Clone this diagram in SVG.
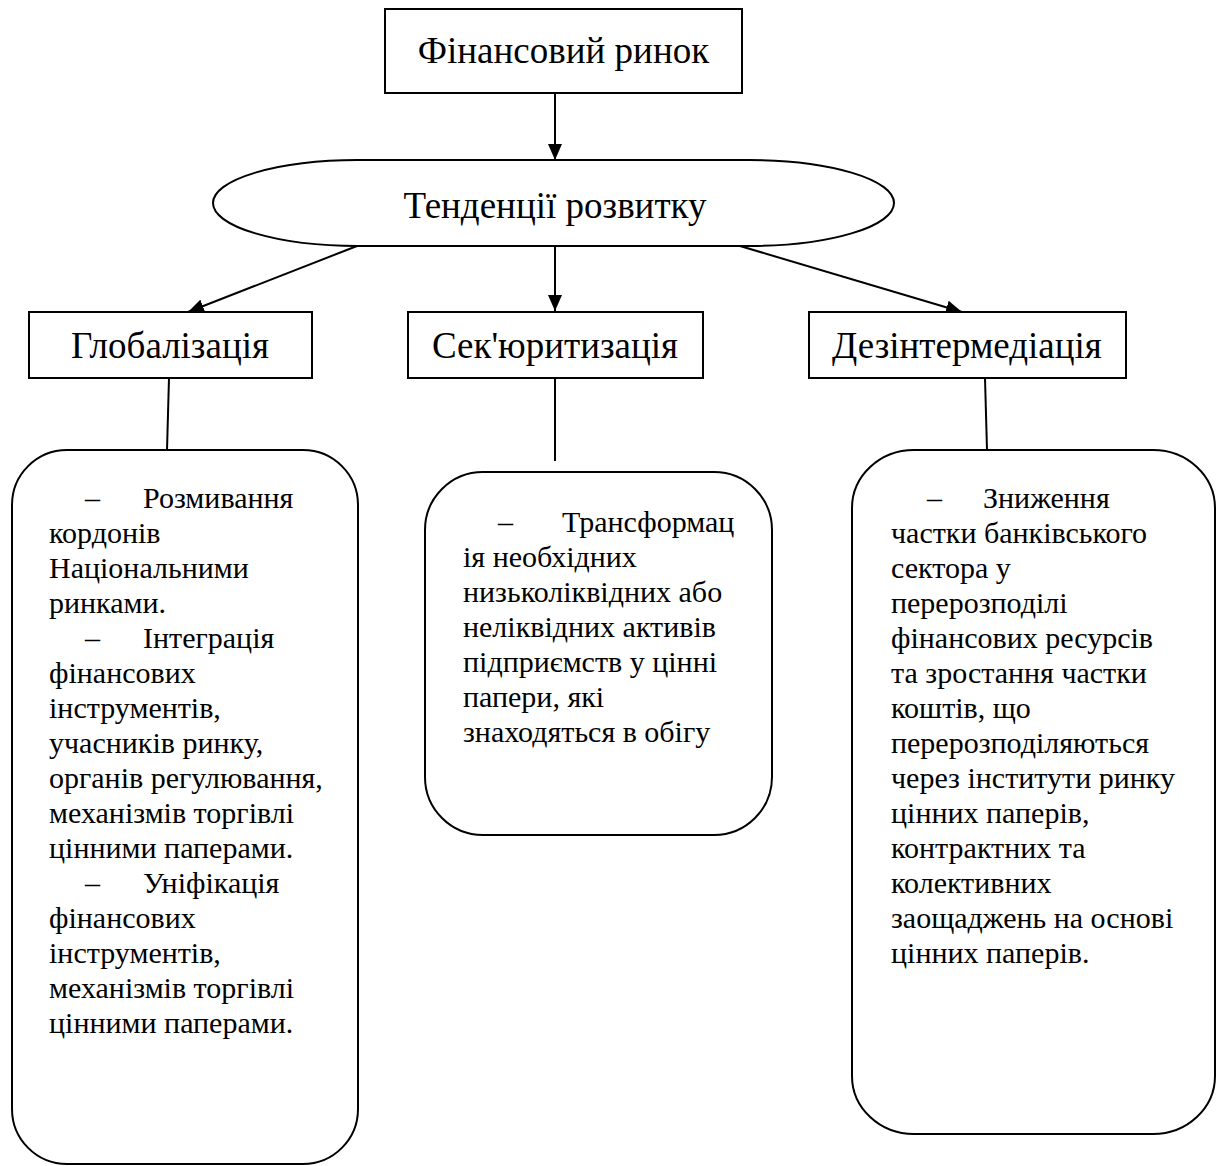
<svg xmlns="http://www.w3.org/2000/svg" width="1219" height="1166" viewBox="0 0 1219 1166">
<style>
.shape{fill:#fff;stroke:#000;stroke-width:2}
.lbl{font-family:"Liberation Serif","Times New Roman",serif;font-size:37px;fill:#000;text-anchor:middle}
.body{font-family:"Liberation Serif","Times New Roman",serif;font-size:30px;fill:#000}
.conn{stroke:#000;stroke-width:2;fill:none}
</style>
<defs>
<marker id="arr" markerUnits="userSpaceOnUse" markerWidth="16" markerHeight="14" refX="16" refY="7" orient="auto">
<path d="M0,0 L16,7 L0,14 Z" fill="#000"/>
</marker>
</defs>
<rect width="1219" height="1166" fill="#fff"/>
<g id="connectors">
<line class="conn" x1="555" y1="93" x2="555" y2="160" marker-end="url(#arr)"/>
<line class="conn" x1="357" y1="246" x2="188" y2="312" marker-end="url(#arr)"/>
<line class="conn" x1="555" y1="246" x2="555" y2="311" marker-end="url(#arr)"/>
<line class="conn" x1="740" y1="246" x2="962" y2="312" marker-end="url(#arr)"/>
<line class="conn" x1="169" y1="378" x2="167" y2="450"/>
<line class="conn" x1="555" y1="378" x2="555" y2="461"/>
<line class="conn" x1="985" y1="378" x2="987" y2="450"/>
</g>
<g id="n-market">
<rect class="shape" x="385" y="9" width="357" height="84"/>
<text class="lbl" x="563.5" y="63">Фінансовий ринок</text>
</g>
<g id="n-trends">
<rect class="shape" x="213" y="160" width="681" height="86" rx="145" ry="43"/>
<text class="lbl" x="555" y="218">Тенденції розвитку</text>
</g>
<g id="n-glob">
<rect class="shape" x="29" y="312" width="283" height="66"/>
<text class="lbl" x="170" y="358">Глобалізація</text>
</g>
<g id="n-sec">
<rect class="shape" x="408" y="312" width="295" height="66"/>
<text class="lbl" x="555" y="358">Сек'юритизація</text>
</g>
<g id="n-dis">
<rect class="shape" x="809" y="312" width="317" height="66"/>
<text class="lbl" x="967" y="358">Дезінтермедіація</text>
</g>
<g id="n-glob-desc">
<rect class="shape" x="12" y="450" width="346" height="714" rx="55" ry="55"/>
<text class="body">
<tspan x="85" y="508">–</tspan><tspan x="143" y="508">Розмивання</tspan>
<tspan x="49" y="543">кордонів</tspan>
<tspan x="49" y="578">Національними</tspan>
<tspan x="49" y="613">ринками.</tspan>
<tspan x="85" y="648">–</tspan><tspan x="143" y="648">Інтеграція</tspan>
<tspan x="49" y="683">фінансових</tspan>
<tspan x="49" y="718">інструментів,</tspan>
<tspan x="49" y="753">учасників ринку,</tspan>
<tspan x="49" y="788">органів регулювання,</tspan>
<tspan x="49" y="823">механізмів торгівлі</tspan>
<tspan x="49" y="858">цінними паперами.</tspan>
<tspan x="85" y="893">–</tspan><tspan x="143" y="893">Уніфікація</tspan>
<tspan x="49" y="928">фінансових</tspan>
<tspan x="49" y="963">інструментів,</tspan>
<tspan x="49" y="998">механізмів торгівлі</tspan>
<tspan x="49" y="1033">цінними паперами.</tspan>
</text>
</g>
<g id="n-sec-desc">
<rect class="shape" x="425" y="472" width="347" height="363" rx="58" ry="58"/>
<text class="body">
<tspan x="498" y="532">–</tspan><tspan x="562" y="532">Трансформац</tspan>
<tspan x="463" y="567">ія необхідних</tspan>
<tspan x="463" y="602">низьколіквідних або</tspan>
<tspan x="463" y="637">неліквідних активів</tspan>
<tspan x="463" y="672">підприємств у цінні</tspan>
<tspan x="463" y="707">папери, які</tspan>
<tspan x="463" y="742">знаходяться в обігу</tspan>
</text>
</g>
<g id="n-dis-desc">
<rect class="shape" x="852" y="450" width="363" height="684" rx="62" ry="58"/>
<text class="body">
<tspan x="927" y="508">–</tspan><tspan x="983" y="508">Зниження</tspan>
<tspan x="891" y="543">частки банківського</tspan>
<tspan x="891" y="578">сектора у</tspan>
<tspan x="891" y="613">перерозподілі</tspan>
<tspan x="891" y="648">фінансових ресурсів</tspan>
<tspan x="891" y="683">та зростання частки</tspan>
<tspan x="891" y="718">коштів, що</tspan>
<tspan x="891" y="753">перерозподіляються</tspan>
<tspan x="891" y="788">через інститути ринку</tspan>
<tspan x="891" y="823">цінних паперів,</tspan>
<tspan x="891" y="858">контрактних та</tspan>
<tspan x="891" y="893">колективних</tspan>
<tspan x="891" y="928">заощаджень на основі</tspan>
<tspan x="891" y="963">цінних паперів.</tspan>
</text>
</g>
</svg>
